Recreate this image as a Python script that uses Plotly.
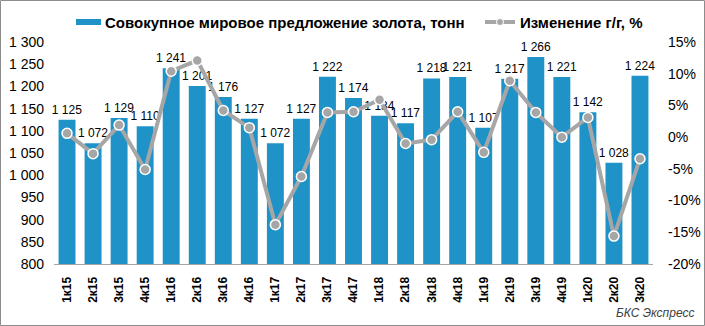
import plotly.graph_objects as go

categories = ["1к15", "2к15", "3к15", "4к15", "1к16", "2к16", "3к16", "4к16",
              "1к17", "2к17", "3к17", "4к17", "1к18", "2к18", "3к18", "4к18",
              "1к19", "2к19", "3к19", "4к19", "1к20", "2к20", "3к20"]
supply_t = [1125, 1072, 1129, 1110, 1241, 1201, 1176, 1127,
            1072, 1127, 1222, 1174, 1134, 1117, 1218, 1221,
            1107, 1217, 1266, 1221, 1142, 1028, 1224]
yoy_pct = [0.6, -2.6, 1.9, -5.1, 10.4, 12.1, 4.2, 1.5,
           -13.8, -6.2, 3.9, 4.0, 5.9, -1.0, -0.4, 4.0,
           -2.4, 8.9, 3.9, 0.0, 3.1, -15.6, -3.4]
left_ticks = list(range(800, 1301, 50))
right_ticks = list(range(-20, 16, 5))

W, H = 705, 326
L, R, T, B = 54, 653, 42, 264
PW, PH = R - L, B - T


def xp(px):
    return (px - L) / PW


def yp(py):
    return (B - py) / PH


FONT = "Arial, 'Liberation Sans', sans-serif"
BAR_C = "#1f93c8"
LINE_C = "#a6a6a6"

fig = go.Figure()
fig.add_trace(go.Bar(
    x=categories, y=supply_t, marker=dict(color=BAR_C, line=dict(width=0)),
    text=[f"{v:,}".replace(",", " ") for v in supply_t],
    textposition="outside", textfont=dict(family=FONT, size=12, color="black"),
    constraintext="none", cliponaxis=False, showlegend=False,
    name="Совокупное мировое предложение золота, тонн",
))
fig.add_trace(go.Scatter(
    x=categories, y=yoy_pct, yaxis="y2", mode="lines+markers",
    line=dict(color=LINE_C, width=4),
    marker=dict(size=10, color=LINE_C, line=dict(color="white", width=1.5)),
    showlegend=False, cliponaxis=False, name="Изменение г/г, %",
))

shapes = [
    dict(type="rect", xref="paper", yref="paper",
         x0=xp(0.5), x1=xp(704.5), y0=yp(325.5), y1=yp(0.5),
         line=dict(color="#8c8c8c", width=1), layer="below"),
    dict(type="rect", xref="paper", yref="paper",
         x0=xp(76), x1=xp(101), y0=yp(25), y1=yp(19),
         fillcolor=BAR_C, line=dict(width=0)),
    dict(type="line", xref="paper", yref="paper",
         x0=xp(485), x1=xp(515), y0=yp(22), y1=yp(22),
         line=dict(color=LINE_C, width=4)),
    dict(type="circle", xref="paper", yref="paper",
         x0=xp(496.5), x1=xp(503.5), y0=yp(25.5), y1=yp(18.5),
         fillcolor=LINE_C, line=dict(color="white", width=1)),
]
annotations = [
    dict(text="<b>Совокупное мировое предложение золота, тонн</b>",
         xref="paper", yref="paper", x=xp(103), y=yp(22), xanchor="left",
         yanchor="middle", showarrow=False, font=dict(family=FONT, size=15, color="black")),
    dict(text="<b>Изменение г/г, %</b>",
         xref="paper", yref="paper", x=xp(518), y=yp(22), xanchor="left",
         yanchor="middle", showarrow=False, font=dict(family=FONT, size=15, color="black")),
    dict(text="<i>БКС Экспресс</i>",
         xref="paper", yref="paper", x=xp(696), y=yp(313), xanchor="right",
         yanchor="middle", showarrow=False, font=dict(family=FONT, size=12, color="#404040")),
]

fig.update_layout(
    width=W, height=H,
    margin=dict(l=L, r=W - R, t=T, b=H - B, pad=0, autoexpand=False),
    paper_bgcolor="white", plot_bgcolor="white",
    bargap=0.35,
    font=dict(family=FONT, size=13, color="black"),
    xaxis=dict(type="category", range=[-0.5, len(categories) - 0.5],
               tickangle=-90, showgrid=False, showline=True,
               linecolor="#a6a6a6", linewidth=1, ticks="", automargin=False,
               tickfont=dict(family=FONT, size=12, color="black", weight="bold"),
               ticklabelstandoff=7),
    yaxis=dict(range=[800, 1300], tickvals=left_ticks,
               ticktext=[f"{v:,}".replace(",", " ") for v in left_ticks],
               showgrid=False, zeroline=False, showline=False, ticks="",
               automargin=False,
               tickfont=dict(family=FONT, size=14, color="black"),
               ticklabelstandoff=9),
    yaxis2=dict(range=[-20, 15], tickvals=right_ticks,
                ticktext=[f"{v}%" for v in right_ticks],
                overlaying="y", side="right", showgrid=False, zeroline=False,
                showline=False, ticks="", automargin=False,
                tickfont=dict(family=FONT, size=14, color="black"),
                ticklabelstandoff=14),
    shapes=shapes, annotations=annotations,
)

fig.write_html("out.html")
